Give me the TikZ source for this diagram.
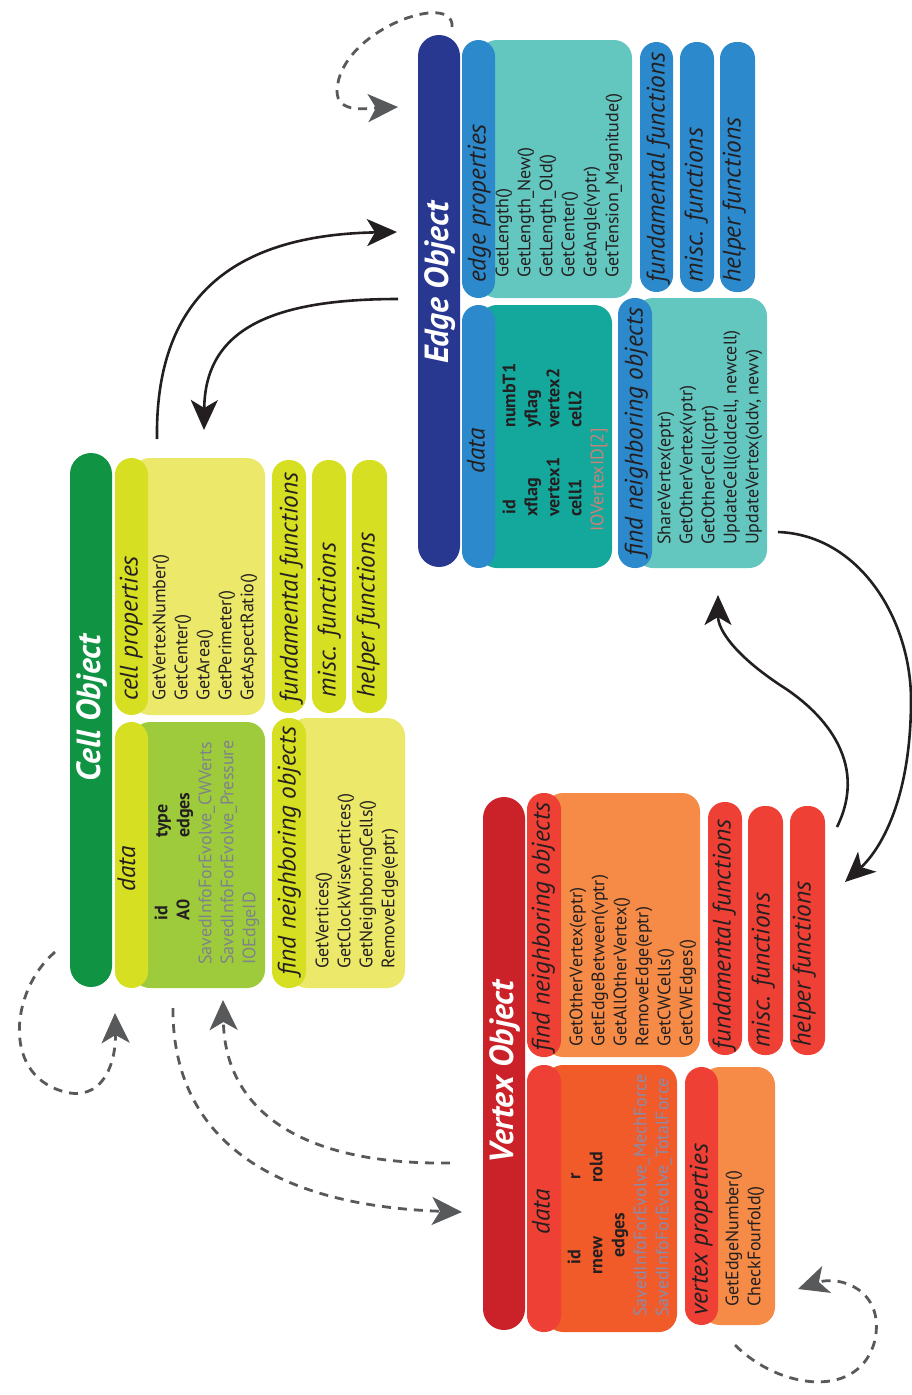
\documentclass[tikz,border=0pt]{standalone}
\usepackage{fontspec}
\setmainfont{PT Sans}
\usetikzlibrary{arrows.meta, fit}
\definecolor{cellbar}{RGB}{16,148,68}
\definecolor{celltab}{RGB}{215,223,35}
\definecolor{celldata}{RGB}{157,203,60}
\definecolor{celllight}{RGB}{236,232,106}
\definecolor{edgebar}{RGB}{40,56,145}
\definecolor{edgetab}{RGB}{44,137,203}
\definecolor{edgedata}{RGB}{20,168,156}
\definecolor{edgelight}{RGB}{99,198,191}
\definecolor{vertbar}{RGB}{203,33,40}
\definecolor{verttab}{RGB}{239,64,54}
\definecolor{vertdata}{RGB}{241,90,41}
\definecolor{vertlight}{RGB}{246,139,71}
\definecolor{inkblack}{RGB}{35,31,32}
\definecolor{loopgray}{RGB}{88,89,91}
\definecolor{savedgray}{RGB}{128,130,140}
\definecolor{vsavedgray}{RGB}{138,140,172}
\definecolor{iored}{RGB}{205,128,118}
\tikzset{
    objbar/.style={rectangle, rounded corners=21pt, inner sep=0pt},
    panel/.style={rectangle, rounded corners=18pt, inner sep=0pt},
    tab/.style={rectangle, rounded corners=16.5pt, inner sep=0pt},
    objtitle/.style={rotate=90, text=white, inner sep=0pt,
        font=\fontsize{33.5}{33.5}\selectfont\bfseries\itshape},
    tablabel/.style={rotate=90, anchor=base west, inner sep=0pt, text=inkblack,
        font=\fontsize{25.3}{25.3}\selectfont\itshape},
    itemlist/.style={rotate=90, anchor=north west, inner sep=0pt, align=left,
        text=inkblack, font=\fontsize{18}{22}\selectfont},
    flow/.style={-{Stealth[length=30pt, width=27pt, inset=8pt]}, line width=2.6pt, draw=inkblack},
    selfflow/.style={-{Stealth[length=30pt, width=28pt, inset=8pt]}, line width=2.8pt,
        draw=loopgray, dash pattern=on 9pt off 7pt}
}

\begin{document}
\begin{tikzpicture}[x=1pt, y=-1pt]
\useasboundingbox (0,0) rectangle (911,1395);

% ── Cell Object ──────────────────────────────────────────────────────────────
\node[objbar, fill=cellbar, fit={(70,453) (112,987)}] (cellbar) {};
\node[objtitle] (celltitle) at (92,708) {Cell Object};

\node[panel, fill=celllight, fit={(132,458) (265,715)}] (cpropbody) {};
\node[tab, fill=celltab, fit={(115,458) (148,715)}] (cproptab) {};
\node[tablabel] (cproplabel) at (137.6,701) {cell properties};
\node[itemlist] (cproplist) at (152.3,701)
    {GetVertexNumber()\\GetCenter()\\GetArea()\\GetPerimeter()\\GetAspectRatio()};

\node[panel, fill=celldata, fit={(132,722) (265,988)}] (cdatabody) {};
\node[tab, fill=celltab, fit={(115,722) (148,988)}] (cdatatab) {};
\node[tablabel] (cdatalabel) at (135,892) {data};
\node[itemlist] (cdatalist) at (154.3,965)
    {\hspace*{44pt}\textbf{\makebox[83pt][l]{id}type}\\
     \hspace*{44pt}\textbf{\makebox[83pt][l]{A0}edges}\\
     \textcolor{savedgray}{SavedInfoForEvolve\_CWVerts}\\
     \textcolor{savedgray}{SavedInfoForEvolve\_Pressure}\\
     \textcolor{savedgray}{IOEdgeID}};

\node[tab, fill=celltab, fit={(272,460) (306,713)}] (cfund) {};
\node[tab, fill=celltab, fit={(312,460) (346,713)}] (cmisc) {};
\node[tab, fill=celltab, fit={(352,460) (387,713)}] (chelp) {};
\node[tablabel] (cfundlabel) at (297.6,703) {fundamental functions};
\node[tablabel] (cmisclabel) at (335.6,698) {misc. functions};
\node[tablabel] (chelplabel) at (374.6,698) {helper functions};

\node[panel, fill=celllight, fit={(289,718) (405,988)}] (cfindbody) {};
\node[tab, fill=celltab, fit={(272,718) (306,988)}] (cfindtab) {};
\node[tablabel] (cfindlabel) at (295.6,976) {find neighboring objects};
\node[itemlist] (cfindlist) at (315.3,969)
    {GetVertices()\\GetClockWiseVertices()\\GetNeighboringCells()\\RemoveEdge(eptr)};

% ── Edge Object ──────────────────────────────────────────────────────────────
\node[objbar, fill=edgebar, fit={(418,35) (460,567)}] (edgebar) {};
\node[objtitle] (edgetitle) at (440,283) {Edge Object};

\node[panel, fill=edgelight, fit={(479,40) (632,298)}] (epropbody) {};
\node[tab, fill=edgetab, fit={(462,40) (495,298)}] (eproptab) {};
\node[tablabel] (eproplabel) at (485.6,283) {edge properties};
\node[itemlist] (eproplist) at (495.3,278)
    {GetLength()\\GetLength\_New()\\GetLength\_Old()\\GetCenter()\\GetAngle(vptr)\\GetTension\_Magnitude()};

\node[panel, fill=edgedata, fit={(479,305) (612,568)}] (edatabody) {};
\node[tab, fill=edgetab, fit={(462,305) (495,568)}] (edatatab) {};
\node[tablabel] (edatalabel) at (484.6,474) {data};
\node[itemlist] (edatalist) at (502.3,532)
    {\hspace*{17pt}\textbf{\makebox[87pt][l]{id}numbT1}\\
     \hspace*{15pt}\textbf{\makebox[89pt][l]{xflag}yflag}\\
     \hspace*{15pt}\textbf{\makebox[89pt][l]{vertex1}vertex2}\\
     \hspace*{15pt}\textbf{\makebox[89pt][l]{cell1}cell2}\\
     \textcolor{iored}{IOVertexID[2]}};

\node[tab, fill=edgetab, fit={(640,42) (673,292)}] (efund) {};
\node[tab, fill=edgetab, fit={(680,42) (714,292)}] (emisc) {};
\node[tab, fill=edgetab, fit={(720,42) (755,292)}] (ehelp) {};
\node[tablabel] (efundlabel) at (664.6,283) {fundamental functions};
\node[tablabel] (emisclabel) at (702.6,283) {misc. functions};
\node[tablabel] (ehelplabel) at (740.6,283) {helper functions};

\node[panel, fill=edgelight, fit={(635,298) (767,568)}] (efindbody) {};
\node[tab, fill=edgetab, fit={(618,298) (652,568)}] (efindtab) {};
\node[tablabel] (efindlabel) at (642.6,557) {find neighboring objects};
\node[itemlist] (efindlist) at (657.3,545)
    {ShareVertex(eptr)\\GetOtherVertex(vptr)\\GetOtherCell(cptr)\\UpdateCell(oldcell, newcell)\\UpdateVertex(oldv, newv)};

% ── Vertex Object ────────────────────────────────────────────────────────────
\node[objbar, fill=vertbar, fit={(483,797) (525,1330)}] (vertbar) {};
\node[objtitle] (verttitle) at (505,1072) {Vertex Object};

\node[panel, fill=vertlight, fit={(545,793) (700,1057)}] (vfindbody) {};
\node[tab, fill=verttab, fit={(527,793) (561,1057)}] (vfindtab) {};
\node[tablabel] (vfindlabel) at (549.6,1052) {find neighboring objects};
\node[itemlist] (vfindlist) at (569.3,1047)
    {GetOtherVertex(eptr)\\GetEdgeBetween(vptr)\\GetAllOtherVertex()\\RemoveEdge(eptr)\\GetCWCells()\\GetCWEdges()};

\node[panel, fill=vertdata, fit={(545,1065) (677,1332)}] (vdatabody) {};
\node[tab, fill=verttab, fit={(527,1065) (561,1332)}] (vdatatab) {};
\node[tablabel] (vdatalabel) at (549.6,1235) {data};
\node[itemlist] (vdatalist) at (567.3,1317)
    {\hspace*{52pt}\textbf{\makebox[85pt][l]{id}r}\\
     \hspace*{42pt}\textbf{\makebox[92pt][l]{rnew}rold}\\
     \hspace*{59pt}\textbf{edges}\\
     \textcolor{vsavedgray}{SavedInfoForEvolve\_MechForce}\\
     \textcolor{vsavedgray}{SavedInfoForEvolve\_TotalForce}};

\node[panel, fill=vertlight, fit={(702,1067) (775,1325)}] (vpropbody) {};
\node[tab, fill=verttab, fit={(685,1067) (718,1325)}] (vproptab) {};
\node[tablabel] (vproplabel) at (707.6,1316) {vertex properties};
\node[itemlist] (vproplist) at (725.3,1307) {GetEdgeNumber()\\CheckFourfold()};

\node[tab, fill=verttab, fit={(708,802) (742,1055)}] (vfund) {};
\node[tab, fill=verttab, fit={(748,806) (783,1055)}] (vmisc) {};
\node[tab, fill=verttab, fit={(790,806) (825,1055)}] (vhelp) {};
\node[tablabel] (vfundlabel) at (730.6,1050) {fundamental functions};
\node[tablabel] (vmisclabel) at (769.6,1048) {misc. functions};
\node[tablabel] (vhelplabel) at (810.6,1047) {helper functions};

% ── Arrow ends ───────────────────────────────────────────────────────────────
\coordinate (cellout) at (157,439);
\coordinate (edgein) at (397,232);
\coordinate (edgeout) at (398,299);
\coordinate (cellin) at (204,430);
\coordinate (edgeout2) at (778,532);
\coordinate (vertin) at (845,882);
\coordinate (vertout) at (837,827);
\coordinate (edgein2) at (718,595);
\coordinate (edgeself) at (452,27);
\coordinate (edgeselfin) at (398,107);
\coordinate (cellself) at (55,952);
\coordinate (cellselfin) at (115,1013);
\coordinate (cellout2) at (173,1008);
\coordinate (vertin2) at (462,1212);
\coordinate (vertout2) at (450,1163);
\coordinate (cellin2) at (223,1000);
\coordinate (vertself) at (735,1345);
\coordinate (vertselfin) at (798,1289);

% ── Arrows: between objects ──────────────────────────────────────────────────
\draw[flow] (cellout) .. controls (155,300) and (230,235) .. (edgein);
\draw[flow] (edgeout) .. controls (270,299) and (205,330) .. (cellin);
\draw[flow] (edgeout2) .. controls (860,535) and (911,620) .. (911,700)
    .. controls (911,800) and (880,850) .. (vertin);
\draw[flow] (vertout) .. controls (870,760) and (820,710) .. (780,685)
    .. controls (735,655) and (718,630) .. (edgein2);

% ── Arrows: dashed ───────────────────────────────────────────────────────────
\draw[selfflow] (edgeself) .. controls (455,-10) and (340,30) .. (337,90)
    .. controls (336,115) and (370,108) .. (edgeselfin);
\draw[selfflow] (cellself) .. controls (10,990) and (0,1080) .. (70,1093)
    .. controls (105,1098) and (116,1060) .. (cellselfin);
\draw[selfflow] (cellout2) .. controls (172,1130) and (260,1205) .. (vertin2);
\draw[selfflow] (vertout2) .. controls (300,1165) and (225,1110) .. (cellin2);
\draw[selfflow] (vertself) .. controls (780,1390) and (860,1400) .. (875,1340)
    .. controls (885,1290) and (840,1275) .. (vertselfin);

\end{tikzpicture}
\end{document}
